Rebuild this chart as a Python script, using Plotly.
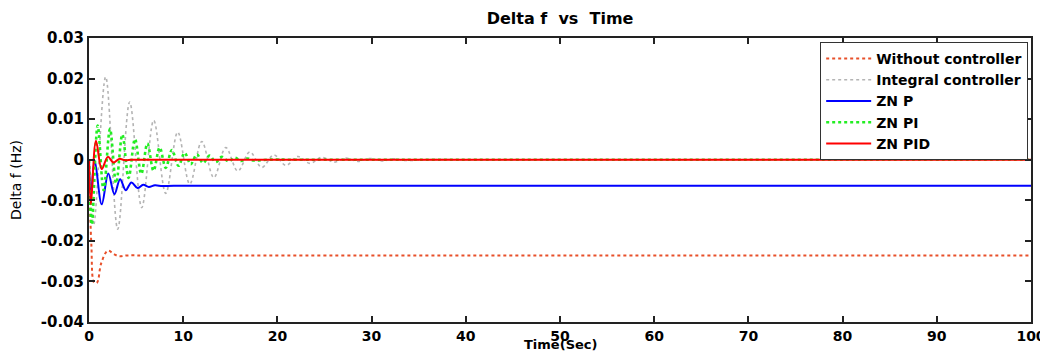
import plotly.graph_objects as go

# ---- data ----
t_none = [0, 0.25, 0.55, 0.85, 1.3, 2.0, 2.6, 3.2, 4.0, 6.0, 100]
f_none = [0, -0.021, -0.0303, -0.0303, -0.0255, -0.0224, -0.0232, -0.0238, -0.0236, -0.0236, -0.0236]

t_int = [0, 0.5, 1.77, 3.05, 4.32, 5.6, 6.87, 8.15, 9.42, 10.7, 11.97, 13.25, 14.52,
         15.8, 17.07, 18.35, 19.62, 20.9, 22.17, 23.45, 24.72, 26.0, 27.27, 28.55,
         29.82, 31.1, 32.37, 33.65, 36, 40, 100]
f_int = [0, -0.016, 0.0204, -0.0171, 0.0142, -0.0118, 0.0097, -0.0083, 0.0068, -0.0060,
         0.0045, -0.0044, 0.0030, -0.0028, 0.0019, -0.0019, 0.0012, -0.0014, 0.0008,
         -0.0009, 0.0006, -0.0006, 0.0004, -0.0004, 0.0003, -0.0003, 0.0002, -0.0002, 0, 0, 0]

t_p = [0, 0.2, 0.6, 1.35, 2.05, 2.7, 3.3, 3.9, 4.5, 5.15, 5.75, 6.35, 7.0, 7.8, 9.0, 100]
f_p = [0, -0.009, -0.0002, -0.011, -0.0034, -0.0085, -0.0048, -0.0075, -0.0056, -0.0070,
       -0.0062, -0.0067, -0.0063, -0.0065, -0.0064, -0.0064]

t_pi = [0, 0.3, 0.92, 1.55, 2.23, 2.88, 3.54, 4.2, 4.88, 5.55, 6.2, 6.85, 7.5, 8.15, 8.8,
        9.5, 10.15, 10.8, 11.45, 12.1, 12.8, 13.45, 14.1, 14.8, 15.5, 16.1, 16.8, 17.5, 19, 22, 100]
f_pi = [0, -0.016, 0.0084, -0.0075, 0.0076, -0.0058, 0.0062, -0.0045, 0.0051, -0.0035,
        0.0040, -0.0027, 0.0030, -0.0020, 0.0024, -0.0015, 0.0017, -0.0011, 0.0013,
        -0.0008, 0.0010, -0.0006, 0.0007, -0.0004, 0.0005, -0.0003, 0.0003, -0.0002, 0, 0, 0]

t_pid = [0, 0.2, 0.74, 1.35, 2.0, 2.6, 3.2, 3.8, 4.5, 6.0, 100]
f_pid = [0, -0.011, 0.0047, -0.0023, 0.0007, -0.0007, 0.0002, -0.0001, 0, 0, 0]

series_names = ["Without controller", "Integral controller", "ZN P", "ZN PI", "ZN PID"]
x_ticks = [0, 10, 20, 30, 40, 50, 60, 70, 80, 90, 100]
y_ticks = [-0.04, -0.03, -0.02, -0.01, 0, 0.01, 0.02, 0.03]
y_tick_text = ["-0.04", "-0.03", "-0.02", "-0.01", "0", "0.01", "0.02", "0.03"]
x_title = "Time(Sec)"
y_title = "Delta f (Hz)"
chart_title = "Delta f \u00a0vs \u00a0Time"

FONT = "DejaVu Sans"

fig = go.Figure()
styles = [
    (t_none, f_none, "#E8502A", "dot", 2),
    (t_int, f_int, "#B4B4B4", "dot", 1.6),
    (t_p, f_p, "#0000FF", "solid", 2),
    (t_pi, f_pi, "#22EE22", "dot", 2.6),
    (t_pid, f_pid, "#FF0000", "solid", 2),
]
for name, (tx, fy, col, dash, w) in zip(series_names, styles):
    fig.add_trace(go.Scatter(
        x=tx, y=fy, mode="lines", name=name,
        line=dict(color=col, dash=dash, width=w, shape="spline", smoothing=1.0),
    ))

# the page body adds an 8px offset, so the figure is sized/margined to compensate
fig.update_layout(
    width=1040, height=343, autosize=False,
    margin=dict(l=81, r=17, t=30, b=29, autoexpand=False),
    paper_bgcolor="white", plot_bgcolor="white",
    title=dict(text=chart_title, x=0.5308, xanchor="center", y=0.985, yanchor="top",
               font=dict(family=FONT, size=16, color="black", weight="bold")),
    legend=dict(x=0.997, xanchor="right", y=0.986, yanchor="top",
                bgcolor="white", bordercolor="#333333", borderwidth=1,
                font=dict(family=FONT, size=14, color="black", weight="bold"),
                tracegroupgap=0, itemwidth=45),
    showlegend=True,
    annotations=[dict(text=x_title, xref="paper", yref="paper", x=0.5, y=-0.045,
                      xanchor="center", yanchor="top", showarrow=False,
                      font=dict(family=FONT, size=13, color="black", weight="bold"))],
)
fig.update_xaxes(
    range=[0, 100], tickvals=x_ticks, ticks="inside", ticklen=6, tickwidth=1.5,
    tickcolor="#222222", showline=True, linecolor="#222222", linewidth=2, mirror="ticks",
    showgrid=False, zeroline=False, automargin=True,
    tickfont=dict(family=FONT, size=14, color="black", weight="bold"),
)
fig.update_yaxes(
    range=[-0.04, 0.03], tickvals=y_ticks, ticktext=y_tick_text, ticks="inside", ticklen=6,
    tickwidth=1.5, tickcolor="#222222", showline=True, linecolor="#222222", linewidth=2,
    mirror="ticks", showgrid=False, zeroline=False, automargin=True,
    tickfont=dict(family=FONT, size=15, color="black", weight="bold"),
    title=dict(text=y_title, standoff=18, font=dict(family=FONT, size=14, color="black")),
)

fig.write_html("out.html")
